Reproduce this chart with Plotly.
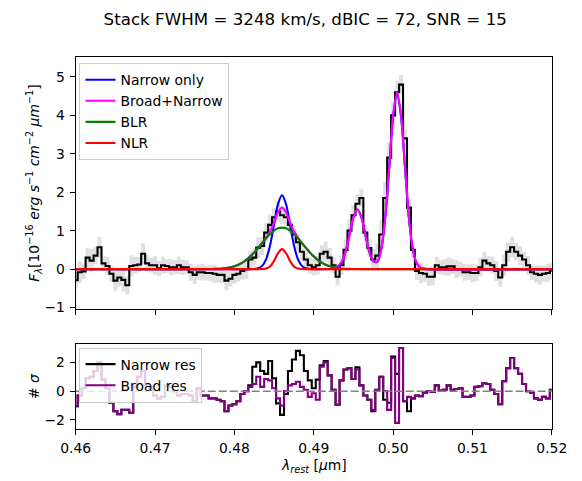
import numpy as np
import plotly.graph_objects as go

W, H = 582, 481

# ---------------- data ----------------
# spectrum grid (rest-frame wavelength, micron)
wave = np.round(0.46 + 0.0005 * np.arange(121), 4)

flux = [
    -0.29, -0.08, -0.06, 0.30, 0.22, 0.35, 0.57, 0.15, 0.08, -0.12,
    -0.30, -0.22, -0.28, -0.42, 0.08, 0.10, 0.12, 0.40, 0.15, 0.10,
    0.10, 0.02, 0.10, 0.08, 0.05, 0.05, 0.10, 0.05, 0.05, -0.08,
    -0.15,
    -0.08, -0.08, -0.10, -0.10, -0.12, -0.15, -0.15, -0.30, -0.25, -0.15,
    -0.12, -0.05, 0.00, 0.25, 0.30, 0.56, 0.60, 0.95, 1.15, 1.35,
    1.50, 1.40, 1.35, 1.15, 0.90, 0.70, 0.45, 0.25, 0.10, 0.05,
    0.10, 0.40, 0.45, 0.30, 0.10, -0.20, 0.10, 0.50, 1.00, 1.40,
    1.70, 1.85, 0.95, 0.55, 0.25, 0.35, 0.90, 1.85, 2.90, 4.00,
    4.60, 4.80, 3.40, 1.60, 0.50, -0.05, -0.10, -0.12, -0.20, -0.20,
    0.10, 0.05, 0.05, 0.07, 0.07, 0.00, 0.00, -0.08, -0.08, -0.10,
    -0.10, 0.05, 0.22, 0.15, 0.10, -0.05, -0.22, 0.10, 0.45, 0.57,
    0.45, 0.35, 0.25, 0.10, -0.08, -0.12, -0.15, -0.12, -0.10, -0.05,
]

flux_err = [
    0.22, 0.28, 0.20, 0.25, 0.30, 0.22, 0.27, 0.20, 0.24, 0.21,
    0.26, 0.23, 0.30, 0.24, 0.28, 0.22, 0.20, 0.27, 0.21, 0.19,
    0.24, 0.20, 0.22, 0.18, 0.21, 0.19, 0.23, 0.20, 0.18, 0.22,
    0.24,
    0.20, 0.22, 0.19, 0.21, 0.24, 0.20, 0.22, 0.25, 0.21, 0.23,
    0.20, 0.22, 0.26, 0.22, 0.24, 0.27, 0.23, 0.25, 0.28, 0.24,
    0.26, 0.23, 0.25, 0.22, 0.24, 0.21, 0.23, 0.20, 0.22, 0.21,
    0.24, 0.22, 0.26, 0.25, 0.21, 0.23, 0.25, 0.28, 0.30, 0.27,
    0.24, 0.22, 0.20, 0.24, 0.27, 0.32, 0.38, 0.42, 0.40, 0.36,
    0.30, 0.25, 0.22, 0.24, 0.20, 0.23, 0.26, 0.21, 0.24, 0.22,
    0.22, 0.19, 0.21, 0.24, 0.20, 0.23, 0.19, 0.22, 0.20, 0.24,
    0.21, 0.25, 0.23, 0.20, 0.22, 0.26, 0.24, 0.28, 0.25, 0.27,
    0.23, 0.25, 0.21, 0.24, 0.20, 0.22, 0.25, 0.21, 0.23, 0.20,
]

# model grid (models are zero outside it)
model_wave = np.round(0.4760 + 0.0005 * np.arange(57), 4)

narrow_only = [
    0, 0, 0, 0, 0, 0, 0, 0, 0, 0,
    0, 0, 0.0006, 0.004, 0.021, 0.084, 0.260, 0.623, 1.164, 1.694,
    1.920, 1.694, 1.164, 0.623, 0.260, 0.084, 0.021, 0.004, 0.0006, 0,
    0, 0.0002, 0.0017, 0.011, 0.049, 0.169, 0.446, 0.891, 1.350, 1.550,
    1.350, 0.892, 0.451, 0.200, 0.191, 0.507, 1.310, 2.616, 3.963, 4.550,
    3.963, 2.616, 1.308, 0.496, 0.142, 0.031, 0.005,
]

broad_narrow = [
    0.001, 0.0014, 0.0027, 0.005, 0.0095, 0.017, 0.029, 0.047, 0.075, 0.115,
    0.170, 0.241, 0.331, 0.436, 0.555, 0.682, 0.818, 0.984, 1.217, 1.477,
    1.600, 1.477, 1.217, 0.984, 0.818, 0.682, 0.555, 0.436, 0.331, 0.241,
    0.170, 0.115, 0.077, 0.058, 0.078, 0.186, 0.456, 0.896, 1.353, 1.551,
    1.351, 0.892, 0.451, 0.200, 0.193, 0.512, 1.325, 2.645, 4.007, 4.600,
    4.007, 2.645, 1.323, 0.501, 0.144, 0.031, 0.005,
]

blr = [
    0.001, 0.0014, 0.0027, 0.005, 0.0095, 0.017, 0.029, 0.047, 0.075, 0.115,
    0.170, 0.241, 0.331, 0.436, 0.555, 0.680, 0.803, 0.914, 1.003, 1.060,
    1.080, 1.060, 1.003, 0.914, 0.803, 0.680, 0.555, 0.436, 0.331, 0.241,
    0.170, 0.115, 0.075, 0.047, 0.029, 0.017, 0.0095, 0.005, 0.0027, 0.0014,
    0.0007, 0, 0, 0, 0, 0, 0, 0, 0, 0,
    0, 0, 0, 0, 0, 0, 0,
]

nlr = [
    0, 0, 0, 0, 0, 0, 0, 0, 0, 0,
    0, 0, 0, 0, 0, 0.002, 0.015, 0.070, 0.214, 0.417,
    0.520, 0.417, 0.214, 0.070, 0.015, 0.002, 0, 0, 0, 0,
    0, 0, 0, 0, 0, 0, 0, 0, 0, 0,
    0, 0, 0, 0, 0, 0, 0, 0, 0, 0,
    0, 0, 0, 0, 0, 0, 0,
]

# residuals in units of sigma (same grid as spectrum)
narrow_res = [
    -1.05, -0.30, 0.20, 0.90, 1.00, 1.40, 2.00, 0.80, 0.20, -0.80,
    -1.40, -1.60, -1.30, -1.30, -1.50, 0.30, 1.00, 1.40, 0.40, 0.30,
    -0.30, -0.50, -0.40, 0.40, 0.30, 0.00, -0.30, -0.20, -0.20, -0.30,
    -0.70,
    0.20, -0.30, -0.30, -0.50, -0.50, -0.60, -0.70, -1.40, -1.00, -0.90,
    -0.70, -0.20, 0.00, 0.40, 1.70, 2.00, 1.40, 1.20, 2.10, 0.90,
    -0.85, -1.65, -0.20, 1.40, 2.20, 2.80, 2.50, 1.40, 0.75, 0.20,
    0.80, 1.80, 2.10, 1.10, 0.10, -0.95, 0.75, 1.50, 1.60, 0.85,
    1.65, 0.40, -0.30, -0.60, -1.40, 0.10, 1.00, -0.60, -0.80, 2.40,
    1.20, 3.00, -0.70, -1.40, -0.50, -0.30, -0.35, -0.10, 0.00, -0.05,
    0.40, 0.05, 0.10, 0.40, 0.10, 0.15, 0.20, -0.40, -0.40, -0.30,
    0.30, 0.35, 0.55, 0.50, 0.10, -0.20, -0.90, 0.70, 1.60, 2.30,
    1.60, 1.20, 0.50, 0.00, -0.10, -0.50, -0.60, -0.40, -0.50, 0.10,
]

broad_res = [
    -1.05, -0.30, 0.20, 0.90, 1.00, 1.40, 2.00, 0.80, 0.20, -0.80,
    -1.40, -1.60, -1.30, -1.30, -1.50, 0.30, 1.00, 1.40, 0.40, 0.30,
    -0.30, -0.50, -0.40, 0.40, 0.30, 0.00, -0.30, -0.20, -0.20, -0.30,
    -0.70,
    0.20, -0.30, -0.30, -0.50, -0.50, -0.60, -0.70, -1.40, -1.00, -0.90,
    -0.70, -0.20, 0.00, 0.30, 0.50, 1.00, 0.30, 0.85, 0.75, 0.20,
    -0.50, -1.00, 0.00, 0.40, 0.50, 0.65, 0.30, 0.10, -0.40, -0.15,
    -0.60, 1.70, 2.00, 1.10, 0.10, -0.95, 0.75, 1.50, 1.60, 0.85,
    1.50, 0.40, -0.30, -0.60, -1.30, 0.10, 1.00, 0.00, -1.30, 2.30,
    -2.20, 3.00, -0.70, -0.40, -0.50, -0.30, -0.35, -0.10, 0.00, -0.05,
    0.40, 0.05, 0.10, 0.40, 0.10, 0.15, 0.20, -0.40, -0.40, -0.30,
    0.30, 0.35, 0.55, 0.50, 0.10, -0.20, -0.90, 0.70, 1.60, 2.30,
    1.60, 1.20, 0.50, 0.00, -0.10, -0.50, -0.60, -0.40, -0.50, 0.10,
]

x_ticks = [0.46, 0.47, 0.48, 0.49, 0.50, 0.51, 0.52]
title_text = "Stack FWHM = 3248 km/s, dBIC = 72, SNR = 15"

# ---------------- figure ----------------
FONT = "DejaVu Sans"
FS = 13.9
LW = 2.1

flux_a = np.array(flux)
err_a = np.array(flux_err)
mx = [0.46] + list(model_wave) + [0.52]


def padded(vals):
    return [0.0] + list(vals) + [0.0]


fig = go.Figure()

# error band
fig.add_trace(go.Scatter(x=wave, y=flux_a - err_a, mode="lines",
                         line=dict(width=0, shape="hvh"), hoverinfo="skip",
                         showlegend=False, xaxis="x", yaxis="y"))
fig.add_trace(go.Scatter(x=wave, y=flux_a + err_a, mode="lines",
                         line=dict(width=0, shape="hvh"), fill="tonexty",
                         fillcolor="rgba(211,211,211,0.7)", hoverinfo="skip",
                         showlegend=False, xaxis="x", yaxis="y"))
# data
fig.add_trace(go.Scatter(x=wave, y=flux, mode="lines",
                         line=dict(color="black", width=LW, shape="hvh"),
                         showlegend=False, xaxis="x", yaxis="y"))
# models
for name, vals, col in [("Narrow only", narrow_only, "#0000ff"),
                        ("Broad+Narrow", broad_narrow, "#ff00ff"),
                        ("BLR", blr, "#008000"),
                        ("NLR", nlr, "#ff0000")]:
    fig.add_trace(go.Scatter(x=mx, y=padded(vals), mode="lines", name=name,
                             line=dict(color=col, width=LW, shape="spline", smoothing=0.8),
                             legend="legend", xaxis="x", yaxis="y"))

# residuals
fig.add_trace(go.Scatter(x=wave, y=narrow_res, mode="lines", name="Narrow res",
                         line=dict(color="black", width=LW, shape="hvh"),
                         legend="legend2", xaxis="x2", yaxis="y2"))
fig.add_trace(go.Scatter(x=wave, y=broad_res, mode="lines", name="Broad res",
                         line=dict(color="#800080", width=LW, shape="hvh"),
                         legend="legend2", xaxis="x2", yaxis="y2"))

xd = [64 / W, 566 / W]
y1d = [(H - 313) / H, (H - 58) / H]
y2d = [(H - 434) / H, (H - 348) / H]

axis_common = dict(showline=True, linecolor="black", linewidth=1.1, mirror=True,
                   ticks="outside", ticklen=5, tickwidth=1.1, tickcolor="black",
                   ticklabelstandoff=2,
                   showgrid=False, zeroline=False,
                   tickfont=dict(family=FONT, size=FS, color="black"))

legend_common = dict(xanchor="left", yanchor="top", traceorder="normal",
                     bgcolor="rgba(255,255,255,0.8)", bordercolor="#cccccc",
                     borderwidth=1, font=dict(family=FONT, size=FS, color="black"),
                     tracegroupgap=0, itemwidth=30)

fig.update_layout(
    width=W, height=H,
    margin=dict(l=0, r=0, t=0, b=0),
    paper_bgcolor="white", plot_bgcolor="white",
    font=dict(family=FONT, size=FS, color="black"),
    title=dict(text=title_text, x=306 / W, y=1 - 19 / H, xanchor="center",
               yanchor="middle", xref="paper", yref="paper",
               font=dict(family=FONT, size=16.7, color="black")),
    xaxis=dict(domain=xd, anchor="y", range=[0.46, 0.52], tickvals=x_ticks,
               showticklabels=False, **axis_common),
    yaxis=dict(domain=y1d, anchor="x", range=[-1.04, 5.51],
               tickvals=[-1, 0, 1, 2, 3, 4, 5], **axis_common),
    xaxis2=dict(domain=xd, anchor="y2", range=[0.46, 0.52], tickvals=x_ticks,
                tickformat=".2f", matches="x", **axis_common),
    yaxis2=dict(domain=y2d, anchor="x2", range=[-2.6, 3.3],
                tickvals=[-2, 0, 2], **axis_common),
    legend=dict(x=68 / W, y=1 - 64 / H, **legend_common),
    legend2=dict(x=68 / W, y=1 - 352 / H, **legend_common),
    shapes=[dict(type="line", xref="x2 domain", yref="y2", x0=0, x1=1, y0=0, y1=0,
                 line=dict(color="#808080", width=1.5, dash="8px,3px"), layer="above")],
    annotations=[
        dict(text="<i>F</i><sub><i>λ</i></sub>[10<sup>−16</sup> <i>erg s</i><sup>−1</sup> "
                  "<i>cm</i><sup>−2</sup> <i>μm</i><sup>−1</sup>]",
             x=20 / W, y=1 - 185 / H, xref="paper", yref="paper", textangle=-90,
             showarrow=False, xanchor="center", yanchor="middle",
             font=dict(family=FONT, size=FS)),
        dict(text="# <i>σ</i>", x=20 / W, y=1 - 391 / H, xref="paper", yref="paper",
             textangle=-90, showarrow=False, xanchor="center", yanchor="middle",
             font=dict(family=FONT, size=FS)),
        dict(text="<i>λ</i><sub><i>rest</i></sub> [<i>μ</i>m]", x=315 / W, y=1 - 472 / H,
             xref="paper", yref="paper", showarrow=False, xanchor="center",
             yanchor="middle", font=dict(family=FONT, size=FS)),
    ],
)

fig.write_html("out.html")
